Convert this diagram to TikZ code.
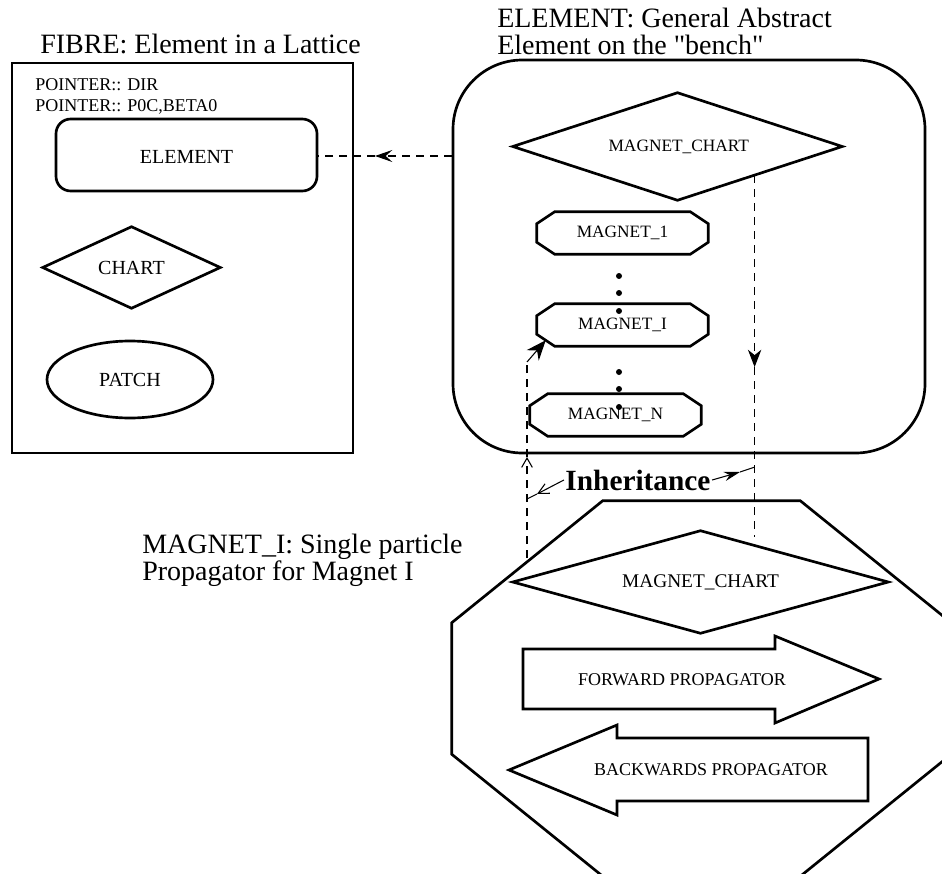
\documentclass[tikz,border=0pt]{standalone}
\usepackage{fontspec}
\setmainfont{Liberation Serif}[Ligatures=TeXOff]
\usetikzlibrary{arrows.meta,fit,calc,shapes.geometric}
\newcommand\fsz[1]{\fontsize{#1}{#1}\selectfont}
\newcommand\octpath[3]{%
  \draw[shp] ([xshift=#2]#1.north west) -- ([xshift=-#2]#1.north east)
    -- ([yshift=-#3]#1.north east) -- ([yshift=#3]#1.south east)
    -- ([xshift=-#2]#1.south east) -- ([xshift=#2]#1.south west)
    -- ([yshift=#3]#1.south west) -- ([yshift=-#3]#1.north west) -- cycle;}
\newcommand\diapath[1]{%
  \draw[shp] (#1.north) -- (#1.east) -- (#1.south) -- (#1.west) -- cycle;}
\begin{document}
\begin{tikzpicture}[x=0.75pt,y=-0.75pt,
  shp/.style={draw, line width=2pt, line join=miter},
  box/.style={inner sep=0pt},
  dashln/.style={line width=0.8pt, dash pattern=on 6pt off 4.5pt},
  thinln/.style={line width=0.8pt},
  ttl/.style={anchor=base west, inner sep=0pt, font=\fsz{21}},
  small/.style={font=\fsz{13}},
  dot/.style={circle, fill, inner sep=0pt, minimum size=4.5pt}]
\useasboundingbox (0,0) rectangle (942,874);
\clip (0,0) rectangle (942,874);

% ---------- FIBRE ----------
\node[ttl] (fibtitle) at (40,54) {FIBRE: Element in a Lattice};
\node[fit={(12,63) (353,453)}, box, shp] (fibre) {};
\node[anchor=base west, inner sep=0pt, font=\fsz{13.5}] (ptr1) at (35,90) {POINTER:: DIR};
\node[anchor=base west, inner sep=0pt, font=\fsz{13.5}] (ptr2) at (35,112) {POINTER:: P0C,BETA0};
\node[fit={(56,119) (317,191)}, box, shp, rounded corners=11pt] (felem) {};
\node[font=\fsz{15}] (felemtxt) at ([yshift=-1.5pt]felem.center) {ELEMENT};
\node[fit={(43,227) (220,308)}, box] (chart) {};
\diapath{chart}
\node[font=\fsz{15}] (charttxt) at (chart.center) {CHART};
\node[ellipse, shp, minimum width=124.5pt, minimum height=57.75pt, inner sep=0pt] (patch) at (130,379.5) {};
\node[font=\fsz{15}] (patchtxt) at (patch.center) {PATCH};

% ---------- ELEMENT (bench) ----------
\node[ttl] (eltitleA) at (497,28) {ELEMENT: General Abstract};
\node[ttl] (eltitleB) at (497,55) {Element on the "bench"};
\node[fit={(453,60) (925,453)}, box, shp, rounded corners=52pt] (bench) {};
\node[fit={(513,93) (842,200)}, box] (mc1) {};
\diapath{mc1}
\node[small] (mc1txt) at ([xshift=1pt]mc1.center) {MAGNET\_CHART};
\node[fit={(537,212) (708,254)}, box] (m1) {};
\octpath{m1}{13.5pt}{9pt}
\node[small] (m1txt) at (m1.center) {MAGNET\_1};
\node[fit={(537,304) (708,346)}, box] (mi) {};
\octpath{mi}{13.5pt}{9pt}
\node[small] (mitxt) at (mi.center) {MAGNET\_I};
\node[fit={(530,394) (701,436)}, box] (mn) {};
\octpath{mn}{13.5pt}{9pt}
\node[small] (mntxt) at (mn.center) {MAGNET\_N};
\foreach \yy [count=\k] in {276,293,311,372,389,407}
  \node[dot] (d\k) at (619,\yy) {};

% ---------- MAGNET_I ----------
\node[ttl] (mititleA) at (142,553) {MAGNET\_I: Single particle};
\node[ttl] (mititleB) at (142,580) {Propagator for Magnet I};
\node[fit={(452,501) (951,876)}, box] (oct) {};
\octpath{oct}{113.25pt}{91.5pt}
\node[fit={(513,531) (888,633)}, box] (mc2) {};
\diapath{mc2}
\node[font=\fsz{14.5}] (mc2txt) at (mc2.center) {MAGNET\_CHART};
\draw[shp] (523,649) -- (775,649) -- (775,636) -- (879,679) -- (775,723) -- (775,709) -- (523,709) -- cycle;
\node[font=\fsz{13.5}] (fwdtxt) at (682,680) {FORWARD PROPAGATOR};
\draw[shp] (509,770) -- (617,725) -- (617,738) -- (868,738) -- (868,801) -- (617,801) -- (617,815) -- cycle;
\node[font=\fsz{13.5}] (bwdtxt) at (711,770) {BACKWARDS PROPAGATOR};

\node[font=\bfseries\fsz{22}, inner sep=1pt] (inh) at (638,480) {Inheritance};

% ---------- connectors ----------
\coordinate (a1) at (375,156);
\draw[dashln,-{Stealth[length=13pt,width=9pt,inset=5pt]}] (bench.west |- a1) -- (a1);
\draw[dashln] (a1) -- (felem.east |- a1);

\coordinate (r0) at ($(mc1.south)!0.468!(mc1.east)$);
\path (r0) ++(0,192) coordinate (r1);
\path (r0) ++(0,362) coordinate (r2);
\draw[dashln,-{Stealth[length=13pt,width=10pt,inset=4pt]}] (r0) -- (r1);
\draw[dashln] (r1) -- (r2);

\coordinate (l0) at (527,558);
\coordinate (l1) at (527,457);
\coordinate (l2) at (527,362);
\draw[dashln,-{Straight Barb[length=7pt,width=8pt]}] (l0) -- (l1);
\draw[dashln] (l1) -- (l2);
\draw[thinln,-{Stealth[length=15pt,width=12pt,inset=5pt]}] (l2) -- ($(mi.south west)+(9,-6)$);

\coordinate (tL) at (537,494);
\coordinate (iL) at (527,499);
\draw[thinln,-{Straight Barb[length=8pt,width=8pt]}] (inh.west) -- (tL);
\draw[thinln] (tL) -- (iL);
\coordinate (tR) at (740,472);
\path (r0) ++(0,292) coordinate (iR);
\draw[thinln,-{Stealth[length=12pt,width=7pt,inset=4pt]}] (inh.east) -- (tR);
\draw[thinln] (tR) -- (iR);
\end{tikzpicture}
\end{document}
